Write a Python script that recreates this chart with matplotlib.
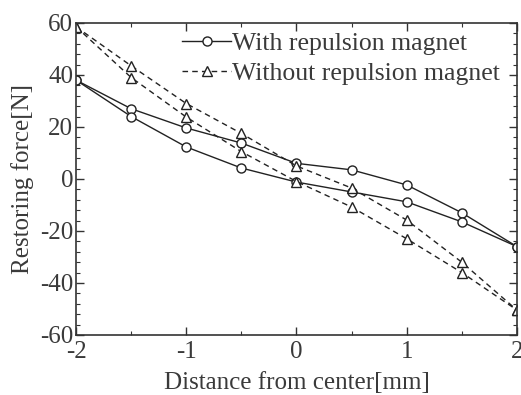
import numpy as np
import matplotlib.pyplot as plt
from matplotlib.ticker import MultipleLocator

# distance from center [mm]
x_pos = [-2, -1.5, -1, -0.5, 0, 0.5, 1, 1.5, 2]

# with repulsion magnet: upper and lower branch of the loop
with_upper = [38, 27, 19.6, 13.8, 6.0, 3.5, -2.3, -13.0, -26.0]
with_lower = [38, 24, 12.3, 4.2, -1.2, -5.0, -8.8, -16.5, -26.0]

# without repulsion magnet
without_upper = [58.5, 43.5, 29.0, 17.5, 5.0, -3.5, -15.8, -32.0, -50.4]
without_lower = [58.5, 39.0, 23.8, 10.5, -1.0, -10.8, -23.0, -36.0, -50.4]

plt.rcParams['font.family'] = ['Liberation Serif', 'DejaVu Serif']
plt.rcParams['axes.unicode_minus'] = False
txt = '#3a3a3a'
fs = 18

fig = plt.figure(figsize=(5.21, 3.95), dpi=100)
ax = fig.add_axes([0.146, 0.152, 0.846, 0.79])

lw = 1.0
ax.plot(x_pos, with_upper, '-', color='#222222', lw=lw, marker='o', ms=6.5,
        mfc='white', mec='#222222', mew=1.0, label='With repulsion magnet')
ax.plot(x_pos, with_lower, '-', color='#222222', lw=lw, marker='o', ms=6.5,
        mfc='white', mec='#222222', mew=1.0)
ax.plot(x_pos, without_upper, '--', color='#222222', lw=lw, marker='^', ms=6.5,
        mfc='white', mec='#222222', mew=1.0, dashes=(4, 3),
        label='Without repulsion magnet')
ax.plot(x_pos, without_lower, '--', color='#222222', lw=lw, marker='^', ms=6.5,
        mfc='white', mec='#222222', mew=1.0, dashes=(4, 3))

ax.set_xlim(-2, 2)
ax.set_ylim(-60, 60)
ax.xaxis.set_major_locator(MultipleLocator(1))
ax.xaxis.set_minor_locator(MultipleLocator(0.5))
ax.yaxis.set_major_locator(MultipleLocator(20))
ax.yaxis.set_minor_locator(MultipleLocator(4))
ax.tick_params(which='both', direction='in', top=True, right=True,
               colors='#333333', labelcolor=txt, labelsize=fs)
ax.tick_params(which='major', length=6, width=1.0)
ax.tick_params(which='minor', length=3, width=0.8)
ax.tick_params(axis='x', pad=4)
ax.tick_params(axis='y', pad=2)
for s in ax.spines.values():
    s.set_color('#333333')
    s.set_linewidth(1.2)

ax.set_xlabel('Distance from center[mm]', fontsize=fs, color=txt, labelpad=7)
ax.set_ylabel('Restoring force[N]', fontsize=fs, color=txt, labelpad=4)

ax.legend(loc='upper right', bbox_to_anchor=(0.962, 0.972), frameon=False,
          prop={'size': 18.5}, handlelength=1.9, handletextpad=0.05,
          labelspacing=0.3, borderaxespad=0.0, labelcolor=txt, borderpad=0.0)

plt.savefig('out.png', dpi=100)
